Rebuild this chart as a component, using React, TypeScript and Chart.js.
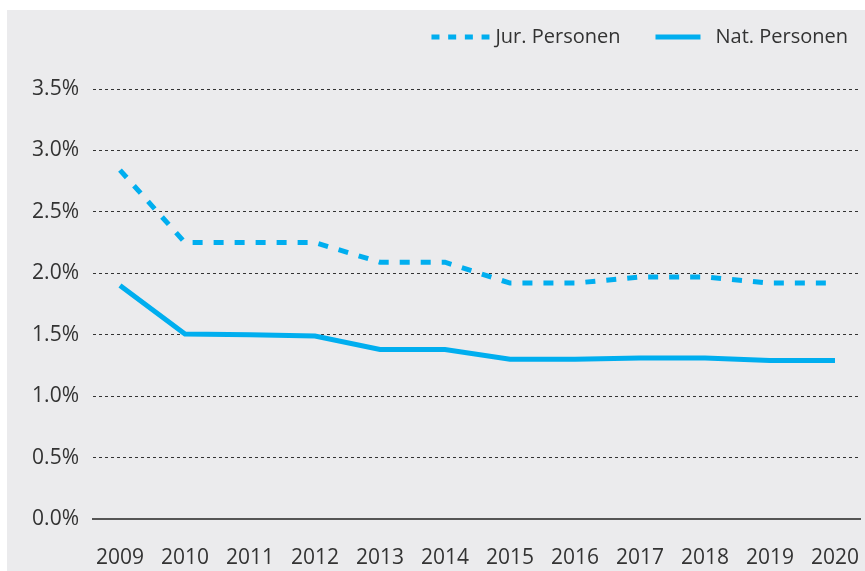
import React, { useEffect, useRef } from "react";
import { Chart, registerables } from "chart.js";

Chart.register(...registerables);

const years = [2009, 2010, 2011, 2012, 2013, 2014, 2015, 2016, 2017, 2018, 2019, 2020];
const jurPersonen = [2.84, 2.25, 2.25, 2.25, 2.09, 2.09, 1.92, 1.92, 1.97, 1.97, 1.92, 1.92];
const natPersonen = [1.9, 1.505, 1.5, 1.49, 1.38, 1.38, 1.3, 1.3, 1.31, 1.31, 1.29, 1.29];
const seriesNames = ["Jur. Personen", "Nat. Personen"];

const LINE_COLOR = "#00AEEF";
const TEXT_COLOR = "#333333";
const BG = "#EBEBED";
const FONT = "'Open Sans', 'Noto Sans', sans-serif";

const legendPlugin = {
  id: "customLegend",
  afterDraw(chart: any) {
    const ctx = chart.ctx;
    const ds = chart.data.datasets;
    ctx.save();
    ctx.font = `20px ${FONT}`;
    ctx.textBaseline = "middle";
    ctx.fillStyle = TEXT_COLOR;
    const y = 27;
    const R = 841;
    const wNat = ctx.measureText(ds[1].label).width;
    const natTextX = R - wNat;
    const natLineEnd = natTextX - 15;
    const natLineStart = natLineEnd - 45;
    const jurTextEnd = natLineStart - 35;
    const wJur = ctx.measureText(ds[0].label).width;
    const jurTextX = jurTextEnd - wJur;
    const jurLineEnd = jurTextX - 6;
    const jurLineStart = jurLineEnd - 58;
    ctx.textAlign = "left";
    ctx.fillText(ds[0].label, jurTextX, y);
    ctx.fillText(ds[1].label, natTextX, y);
    ctx.lineWidth = 5;
    ctx.strokeStyle = ds[0].borderColor;
    ctx.setLineDash([8, 8.7]);
    ctx.beginPath();
    ctx.moveTo(jurLineStart, y);
    ctx.lineTo(jurLineEnd, y);
    ctx.stroke();
    ctx.strokeStyle = ds[1].borderColor;
    ctx.setLineDash([]);
    ctx.beginPath();
    ctx.moveTo(natLineStart, y);
    ctx.lineTo(natLineEnd, y);
    ctx.stroke();
    ctx.restore();
  },
};

export default function App() {
  const ref = useRef<HTMLCanvasElement | null>(null);
  useEffect(() => {
    if (!ref.current) return;
    const chart = new Chart(ref.current, {
      type: "line",
      data: {
        datasets: [
          {
            label: seriesNames[0],
            data: years.map((yr, i) => ({ x: yr, y: jurPersonen[i] })),
            borderColor: LINE_COLOR,
            borderWidth: 5,
            borderDash: [10, 11],
            pointRadius: 0,
            tension: 0,
            fill: false,
          },
          {
            label: seriesNames[1],
            data: years.map((yr, i) => ({ x: yr, y: natPersonen[i] })),
            borderColor: LINE_COLOR,
            borderWidth: 5,
            pointRadius: 0,
            tension: 0,
            fill: false,
          },
        ],
      },
      options: {
        animation: false,
        responsive: true,
        maintainAspectRatio: false,
        layout: { padding: { top: 79, right: 5, left: 0, bottom: 0 } },
        plugins: {
          legend: { display: false },
          tooltip: { enabled: false },
        },
        scales: {
          x: {
            type: "linear",
            min: 2008.585,
            max: 2020.385,
            grid: { display: false, drawTicks: false },
            border: { display: true, color: "#555555", width: 2 },
            afterFit: (s: any) => {
              s.height = 52;
              s.paddingLeft = 0;
              s.paddingRight = 0;
            },
            ticks: {
              stepSize: 1,
              includeBounds: false,
              autoSkip: false,
              maxRotation: 0,
              padding: 26,
              color: TEXT_COLOR,
              font: { family: FONT, size: 21 },
              callback: (v: any) => String(v),
            },
          },
          y: {
            min: 0,
            max: 3.5,
            afterFit: (s: any) => {
              s.width = 86;
              s.paddingTop = 0;
              s.paddingBottom = 0;
            },
            grid: {
              drawTicks: false,
              lineWidth: 1,
              color: (c: any) => (c.tick && c.tick.value === 0 ? "rgba(0,0,0,0)" : "#333333"),
            },
            border: { display: false, dash: [3, 3] },
            ticks: {
              stepSize: 0.5,
              padding: 14,
              color: TEXT_COLOR,
              font: { family: FONT, size: 21 },
              callback: (v: any) => Number(v).toFixed(1) + "%",
            },
          },
        },
      },
      plugins: [legendPlugin],
    });
    return () => chart.destroy();
  }, []);
  return (
    <div
      style={{
        position: "absolute",
        left: 7,
        top: 10,
        width: 858,
        height: 561,
        background: BG,
      }}
    >
      <canvas ref={ref} />
    </div>
  );
}
